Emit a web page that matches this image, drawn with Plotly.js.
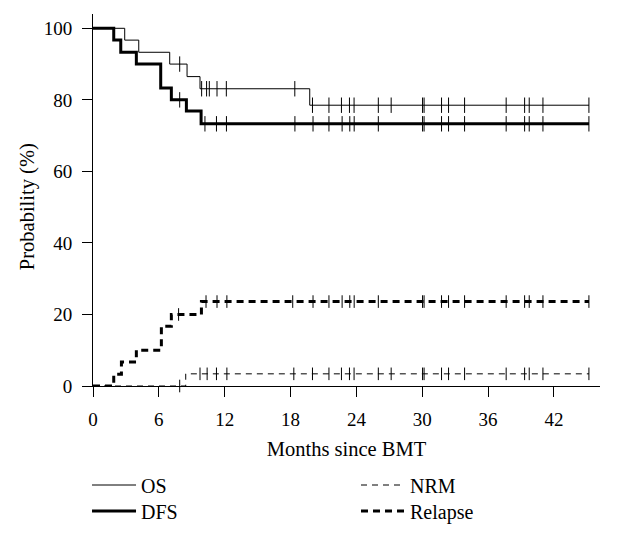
<!DOCTYPE html>
<html>
<head>
<meta charset="utf-8">
<script src="https://cdn.plot.ly/plotly-3.0.1.min.js"></script>
<style>html,body{margin:0;padding:0;background:#fff;}#chart{width:638px;height:538px;}</style>
</head>
<body>
<div id="chart"></div>
<script>
// ---- data ----
var osTimes  = [0, 2.89, 4.17, 6.99, 8.57, 9.75, 19.75, 45.2];
var osProb   = [100, 96.7, 93.3, 90.0, 86.5, 83.1, 78.5, 78.5];
var osCens   = [7.9, 9.9, 10.35, 10.6, 11.3, 12.15, 18.39, 20.0, 21.5, 22.64, 23.37, 23.79, 26.0, 27.17, 30.03, 30.17, 31.76, 32.4, 33.86, 37.65, 39.33, 39.75, 41.0, 45.19];

var dfsTimes = [0, 1.89, 2.53, 3.95, 6.17, 7.14, 8.51, 9.85, 45.2];
var dfsProb  = [100, 96.7, 93.3, 90.0, 83.3, 80.0, 76.9, 73.3, 73.3];
var dfsCens  = [7.9, 10.2, 11.25, 12.16, 18.4, 20.05, 21.5, 22.7, 23.4, 23.8, 26.0, 30.03, 30.17, 31.76, 32.4, 33.86, 37.65, 39.33, 39.75, 41.0, 45.19];

var nrmTimes = [0, 8.45, 45.2];
var nrmProb  = [0, 3.4, 3.4];
var nrmCens  = [7.9, 9.75, 10.4, 11.25, 12.2, 18.3, 20.0, 21.5, 22.64, 23.37, 23.79, 26.0, 27.17, 30.03, 30.17, 31.76, 32.4, 33.86, 37.65, 39.33, 39.75, 41.0, 45.19];

var relTimes = [0, 1.89, 2.59, 3.95, 6.23, 7.14, 9.88, 45.2];
var relProb  = [0, 3.3, 6.7, 10.0, 16.7, 20.0, 23.6, 23.6];
var relCens  = [7.8, 10.3, 11.3, 12.2, 18.2, 20.05, 21.5, 22.7, 23.4, 23.8, 26.0, 30.03, 30.17, 31.76, 32.4, 33.86, 37.65, 39.33, 39.75, 41.0, 45.19];

var xTicks = [0, 6, 12, 18, 24, 30, 36, 42];
var yTicks = [0, 20, 40, 60, 80, 100];

// step-function lookup for censor marks
function stepAt(times, probs, t) {
  var v = probs[0];
  for (var i = 0; i < times.length; i++) { if (times[i] <= t) v = probs[i]; }
  return v;
}
function censY(times, probs, cens) { return cens.map(function (t) { return stepAt(times, probs, t); }); }

var FONT = '"Liberation Serif", "DejaVu Serif", serif';

var series = [
  {name: 'OS', t: osTimes, p: osProb, c: osCens, w: 1, dash: 'solid', leg: 'legend', msize: 11},
  {name: 'DFS', t: dfsTimes, p: dfsProb, c: dfsCens, w: 3, dash: 'solid', leg: 'legend2', msize: 11},
  {name: 'NRM', t: nrmTimes, p: nrmProb, c: nrmCens, w: 1, dash: '6px,5px', leg: 'legend3', msize: 9},
  {name: 'Relapse', t: relTimes, p: relProb, c: relCens, w: 3, dash: '7px,5px', leg: 'legend4', msize: 9}
];

var traces = [];
series.forEach(function (s) {
  traces.push({
    x: s.t, y: s.p, name: s.name, type: 'scatter', mode: 'lines',
    line: {shape: 'hv', color: '#000', width: s.w, dash: s.dash},
    legend: s.leg, hoverinfo: 'skip', cliponaxis: false
  });
});
series.forEach(function (s) {
  traces.push({
    x: s.c, y: censY(s.t, s.p, s.c), type: 'scatter', mode: 'markers',
    marker: {symbol: 'line-ns-open', size: s.msize, color: '#000', line: {color: '#000', width: 1}},
    showlegend: false, hoverinfo: 'skip', cliponaxis: false
  });
});

function leg(yv, xv) {
  return {x: xv, y: yv, xref: 'container', yref: 'container', xanchor: 'left', yanchor: 'middle',
          bgcolor: 'rgba(0,0,0,0)', font: {family: FONT, size: 20, color: '#000'},
          borderwidth: 0, tracegroupgap: 0, itemwidth: 44};
}

var layout = {
  width: 638, height: 538,
  margin: {l: 93, r: 38, t: 14, b: 152, autoexpand: false},
  paper_bgcolor: '#fff', plot_bgcolor: '#fff',
  font: {family: FONT, size: 19, color: '#000'},
  xaxis: {
    range: [0, 46.2], tickvals: xTicks, ticktext: xTicks.map(String), automargin: true,
    showgrid: false, zeroline: false, showline: true, linecolor: '#000', linewidth: 1,
    ticks: 'outside', ticklen: 10, tickwidth: 1, tickcolor: '#000',
    tickfont: {family: FONT, size: 19}, ticklabelstandoff: 6,
    title: {text: 'Months since BMT', font: {family: FONT, size: 20.5}, standoff: 12}
  },
  yaxis: {
    range: [0, 104], tickvals: yTicks, ticktext: yTicks.map(String), automargin: false,
    showgrid: false, zeroline: false, showline: true, linecolor: '#000', linewidth: 1,
    ticks: 'outside', ticklen: 10, tickwidth: 1, tickcolor: '#000',
    tickfont: {family: FONT, size: 19}, ticklabelstandoff: 6
  },
  annotations: [{
    text: 'Probability (%)', xref: 'paper', yref: 'paper', x: -0.130, y: 0.481,
    xanchor: 'center', yanchor: 'middle', textangle: -90, showarrow: false,
    font: {family: FONT, size: 20.5, color: '#000'}
  }],
  showlegend: true,
  legend: leg(0.0985, 0.1364),
  legend2: leg(0.0502, 0.1364),
  legend3: leg(0.0985, 0.558),
  legend4: leg(0.0502, 0.558)
};

Plotly.newPlot('chart', traces, layout, {staticPlot: true, displayModeBar: false});
</script>
</body>
</html>
